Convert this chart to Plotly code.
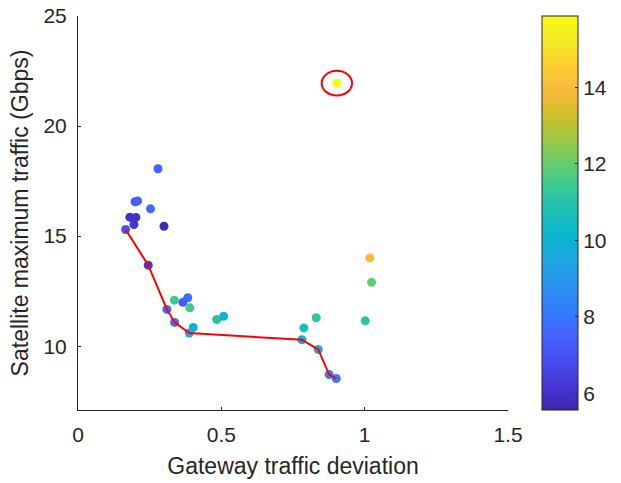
import plotly.graph_objects as go

# Data: gateway traffic deviation (x), satellite maximum traffic in Gbps (y), colour value
deviation = [0.903, 1.018, 1.024, 1.002,
             0.279, 0.199, 0.208, 0.253, 0.181, 0.202, 0.195, 0.300, 0.166, 0.245,
             0.336, 0.383, 0.366, 0.390, 0.310, 0.337, 0.484, 0.508, 0.402, 0.388,
             0.831, 0.788, 0.781, 0.838, 0.876, 0.901]
max_traffic = [21.95, 14.01, 12.90, 11.15,
               18.06, 16.56, 16.60, 16.24, 15.86, 15.85, 15.53, 15.45, 15.30, 13.68,
               12.09, 12.20, 11.99, 11.74, 11.67, 11.08, 11.21, 11.36, 10.85, 10.60,
               11.29, 10.83, 10.29, 9.85, 8.71, 8.53]
color_value = [15.87, 14.0, 12.0, 11.1,
               7.4, 7.3, 7.4, 7.6, 6.0, 6.0, 6.1, 5.8, 7.0, 6.2,
               11.4, 7.8, 7.3, 11.5, 7.6, 7.6, 11.0, 10.2, 9.9, 9.6,
               11.2, 10.7, 9.9, 9.6, 8.2, 8.1]

# Pareto front (red line)
front_x = [0.166, 0.245, 0.310, 0.337, 0.388, 0.781, 0.838, 0.876, 0.901]
front_y = [15.30, 13.68, 11.67, 11.08, 10.60, 10.29, 9.85, 8.71, 8.53]

x_ticks = [0, 0.5, 1, 1.5]
y_ticks = [10, 15, 20, 25]
cbar_ticks = [6, 8, 10, 12, 14]

parula_rgb = [
    (0.2422, 0.1504, 0.6603), (0.2706, 0.2147, 0.8364), (0.2813, 0.3006, 0.9414),
    (0.2699, 0.3892, 0.9906), (0.1963, 0.4847, 0.9892), (0.1687, 0.5703, 0.9359),
    (0.1248, 0.6459, 0.8883), (0.0297, 0.7082, 0.8163), (0.0964, 0.7500, 0.7120),
    (0.2161, 0.7843, 0.5923), (0.3909, 0.8029, 0.4354), (0.6174, 0.7876, 0.2612),
    (0.8203, 0.7498, 0.1535), (0.9728, 0.7298, 0.2394), (0.9892, 0.8136, 0.1885),
    (0.9597, 0.9135, 0.1423), (0.9769, 0.9839, 0.0805)]
n = len(parula_rgb)
parula = [[i / (n - 1), "rgb(%d,%d,%d)" % tuple(round(c * 255) for c in rgb)]
          for i, rgb in enumerate(parula_rgb)]

cmin, cmax = 5.56, 15.87
font_color = "#262626"
font_family = "Liberation Sans, Arial, sans-serif"
tick_size = 21
title_size = 23

fig = go.Figure()
fig.add_trace(go.Scatter(
    x=deviation, y=max_traffic, mode="markers",
    marker=dict(size=9, color=color_value, colorscale=parula, cmin=cmin, cmax=cmax,
                line=dict(width=0),
                colorbar=dict(thickness=36, len=1, lenmode="fraction", y=0.5, yanchor="middle",
                              x=1.079, xanchor="left", xpad=0, ypad=0,
                              outlinewidth=1, outlinecolor=font_color,
                              tickmode="array", tickvals=cbar_ticks,
                              ticks="inside", ticklen=3, tickcolor=font_color,
                              tickprefix="\u00a0",
                              tickfont=dict(size=tick_size, color=font_color,
                                            family=font_family))),
    showlegend=False))
fig.add_trace(go.Scatter(x=front_x, y=front_y, mode="lines",
                         line=dict(color="red", width=2), showlegend=False))

# highlight the point with the largest colour value
imax = color_value.index(max(color_value))
cx, cy = deviation[imax], max_traffic[imax]
rx, ry = 0.053, 0.56
fig.add_shape(type="circle", xref="x", yref="y", x0=cx - rx, x1=cx + rx,
              y0=cy - ry, y1=cy + ry, line=dict(color="red", width=2))

axis_common = dict(showgrid=False, zeroline=False, showline=True, linecolor=font_color,
                   linewidth=1, ticks="inside", ticklen=3, tickcolor=font_color,
                   tickfont=dict(size=tick_size, color=font_color, family=font_family),
                   mirror=False)
fig.update_xaxes(range=[0, 1.5], tickmode="array", tickvals=x_ticks,
                 ticktext=["0", "0.5", "1", "1.5"], ticklabelstandoff=6,
                 title=dict(text="Gateway traffic deviation",
                            font=dict(size=title_size, color=font_color, family=font_family),
                            standoff=12),
                 **axis_common)
fig.update_yaxes(range=[7.1, 25], tickmode="array", tickvals=y_ticks, ticklabelstandoff=6,
                 title=dict(text="Satellite maximum traffic (Gbps)",
                            font=dict(size=title_size, color=font_color, family=font_family),
                            standoff=8),
                 **axis_common)
fig.update_layout(width=621, height=483, plot_bgcolor="white", paper_bgcolor="white",
                  margin=dict(l=78, r=113, t=16, b=73, autoexpand=False),
                  font=dict(family=font_family, color=font_color))
fig.write_html("out.html")
